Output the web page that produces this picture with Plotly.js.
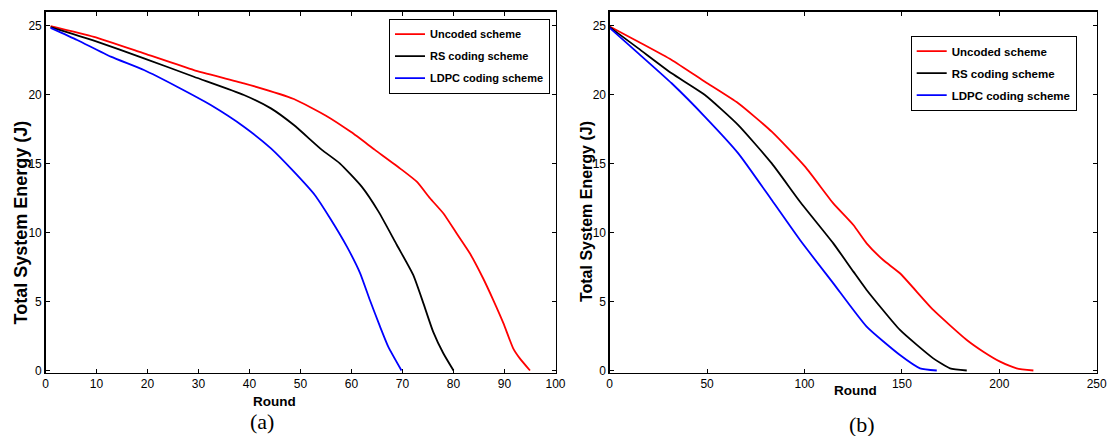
<!DOCTYPE html>
<html>
<head>
<meta charset="utf-8">
<script src="https://cdn.plot.ly/plotly-3.0.1.min.js"></script>
<style>html,body{margin:0;padding:0;background:#fff;}#chart{width:1108px;height:436px;}</style>
</head>
<body>
<div id="chart"></div>
<script>
// ---- Data ----
const seriesNames = ["Uncoded scheme", "RS coding scheme", "LDPC coding scheme"];
const seriesColors = ["#ff0000", "#000000", "#0000ff"];

// Panel (a)
const roundsUncodedA = [1, 9.5, 19.3, 29.1, 38.9, 48.7, 55, 60, 64.6, 69.5, 72.8, 75.4, 78, 80.6, 83.2, 85.8, 87.8, 89.8, 91.7, 93, 95];
const energyUncodedA = [24.98, 24.2, 23.0, 21.79, 20.83, 19.69, 18.48, 17.27, 16.0, 14.66, 13.69, 12.49, 11.4, 9.95, 8.5, 6.69, 5.11, 3.42, 1.61, 0.88, 0];
const roundsRSA = [1, 9.5, 19.3, 29.1, 38.9, 44.2, 48.7, 54.2, 57.7, 62, 65.3, 68.9, 72.1, 74.1, 76, 78, 80];
const energyRSA = [24.9, 23.92, 22.64, 21.3, 19.98, 19.01, 17.8, 16.0, 15.02, 13.33, 11.52, 9.1, 6.93, 4.87, 2.82, 1.25, 0];
const roundsLDPCA = [1, 6.2, 12.8, 19.3, 25.8, 32.4, 38.9, 44.2, 48.7, 52.8, 55.8, 59.1, 61.7, 63.6, 65.6, 67.2, 69.8];
const energyLDPCA = [24.85, 23.97, 22.76, 21.79, 20.58, 19.25, 17.68, 16.11, 14.42, 12.73, 11.04, 8.98, 7.05, 5.11, 3.18, 1.73, 0];

// Panel (b)
const roundsUncodedB = [0, 14.7, 31.8, 48.9, 66, 83.2, 100.3, 114.8, 125.1, 131.9, 140.4, 149, 166.1, 183.3, 191.8, 200.4, 208.9, 217.5];
const energyUncodedB = [24.95, 23.84, 22.52, 20.94, 19.38, 17.32, 14.78, 12.12, 10.55, 9.22, 8.01, 7.05, 4.39, 2.21, 1.36, 0.64, 0.16, 0];
const roundsRSB = [0, 14.7, 31.8, 48.9, 66, 83.2, 97.7, 114.8, 125.1, 131.9, 149, 166.1, 174.7, 183.3];
const energyRSB = [24.9, 23.36, 21.55, 19.98, 17.8, 15.02, 12.24, 9.22, 7.17, 5.84, 2.94, 0.88, 0.16, 0];
const roundsLDPCB = [0, 14.7, 31.8, 48.9, 66, 83.2, 97.7, 114.8, 131.9, 149, 159.3, 167.9];
const energyLDPCB = [24.85, 23.0, 20.83, 18.4, 15.75, 12.36, 9.46, 6.32, 3.18, 1.12, 0.16, 0];

const xTicksA = [0, 10, 20, 30, 40, 50, 60, 70, 80, 90, 100];
const xTicksB = [0, 50, 100, 150, 200, 250];
const yTicks = [0, 5, 10, 15, 20, 25];

const xTitle = "Round";
const yTitle = "Total System Energy (J)";
const panelLabels = ["(a)", "(b)"];

// ---- Build ----
const W = 1108, H = 436;
const sans = "'Liberation Sans', Arial, sans-serif";
const serif = "'Liberation Serif', 'Times New Roman', serif";

function mk(x, y, i, xa, ya, lg) {
  return {x: x, y: y, type: 'scatter', mode: 'lines', name: seriesNames[i],
    xaxis: xa, yaxis: ya, legend: lg, legendgroup: lg + i,
    line: {color: seriesColors[i], width: 1.8, shape: 'spline', smoothing: 0.5}};
}
const traces = [
  mk(roundsUncodedA, energyUncodedA, 0, 'x', 'y', 'legend'),
  mk(roundsRSA, energyRSA, 1, 'x', 'y', 'legend'),
  mk(roundsLDPCA, energyLDPCA, 2, 'x', 'y', 'legend'),
  mk(roundsUncodedB, energyUncodedB, 0, 'x2', 'y2', 'legend2'),
  mk(roundsRSB, energyRSB, 1, 'x2', 'y2', 'legend2'),
  mk(roundsLDPCB, energyLDPCB, 2, 'x2', 'y2', 'legend2')
];

const px = v => v / W, py = v => 1 - v / H;
const yDom = [py(372.7), py(11.7)];
function axisBase(extra) {
  return Object.assign({
    showline: true, linecolor: '#000', linewidth: 1.3, mirror: 'ticks',
    ticks: 'inside', ticklen: 4, tickcolor: '#000', tickwidth: 1,
    showgrid: false, zeroline: false,
    tickfont: {family: sans, size: 12, color: '#000'}
  }, extra);
}
const legendBase = {
  bgcolor: '#fff', bordercolor: '#000', borderwidth: 1,
  xanchor: 'left', yanchor: 'top', tracegroupgap: 3
};

const layout = {
  width: W, height: H,
  margin: {l: 0, r: 0, t: 0, b: 0},
  paper_bgcolor: '#fff', plot_bgcolor: '#fff',
  showlegend: true,
  xaxis: axisBase({domain: [px(45.5), px(555.5)], range: [0, 100], tickvals: xTicksA, anchor: 'y'}),
  yaxis: axisBase({domain: yDom, range: [-0.16, 26.02], tickvals: yTicks, anchor: 'x'}),
  xaxis2: axisBase({domain: [px(609.7), px(1096.7)], range: [0, 250], tickvals: xTicksB, anchor: 'y2'}),
  yaxis2: axisBase({domain: yDom, range: [-0.16, 26.02], tickvals: yTicks, anchor: 'x2'}),
  legend: Object.assign({}, legendBase, {x: px(389), y: py(18.7),
    font: {family: sans, size: 11, color: '#000', weight: 'bold'}}),
  legend2: Object.assign({}, legendBase, {x: px(910.7), y: py(35.7),
    font: {family: sans, size: 11.5, color: '#000', weight: 'bold'}}),
  annotations: [
    {xref: 'paper', yref: 'paper', x: px(20.5), y: py(223), text: '<b>' + yTitle + '</b>', textangle: -90, showarrow: false,
     font: {family: sans, size: 18, color: '#000'}, xanchor: 'center', yanchor: 'middle'},
    {xref: 'paper', yref: 'paper', x: px(586.6), y: py(211.5), text: '<b>' + yTitle + '</b>', textangle: -90, showarrow: false,
     font: {family: sans, size: 16, color: '#000'}, xanchor: 'center', yanchor: 'middle'},
    {xref: 'paper', yref: 'paper', x: px(274), y: py(401), text: '<b>' + xTitle + '</b>', showarrow: false,
     font: {family: sans, size: 13.5, color: '#000'}, xanchor: 'center', yanchor: 'middle'},
    {xref: 'paper', yref: 'paper', x: px(855.5), y: py(390), text: '<b>' + xTitle + '</b>', showarrow: false,
     font: {family: sans, size: 13.5, color: '#000'}, xanchor: 'center', yanchor: 'middle'},
    {xref: 'paper', yref: 'paper', x: px(262), y: py(421), text: panelLabels[0], showarrow: false,
     font: {family: serif, size: 22, color: '#000'}, xanchor: 'center', yanchor: 'middle'},
    {xref: 'paper', yref: 'paper', x: px(862), y: py(424), text: panelLabels[1], showarrow: false,
     font: {family: serif, size: 22, color: '#000'}, xanchor: 'center', yanchor: 'middle'}
  ]
};

Plotly.newPlot('chart', traces, layout, {displayModeBar: false, staticPlot: true});
</script>
</body>
</html>
